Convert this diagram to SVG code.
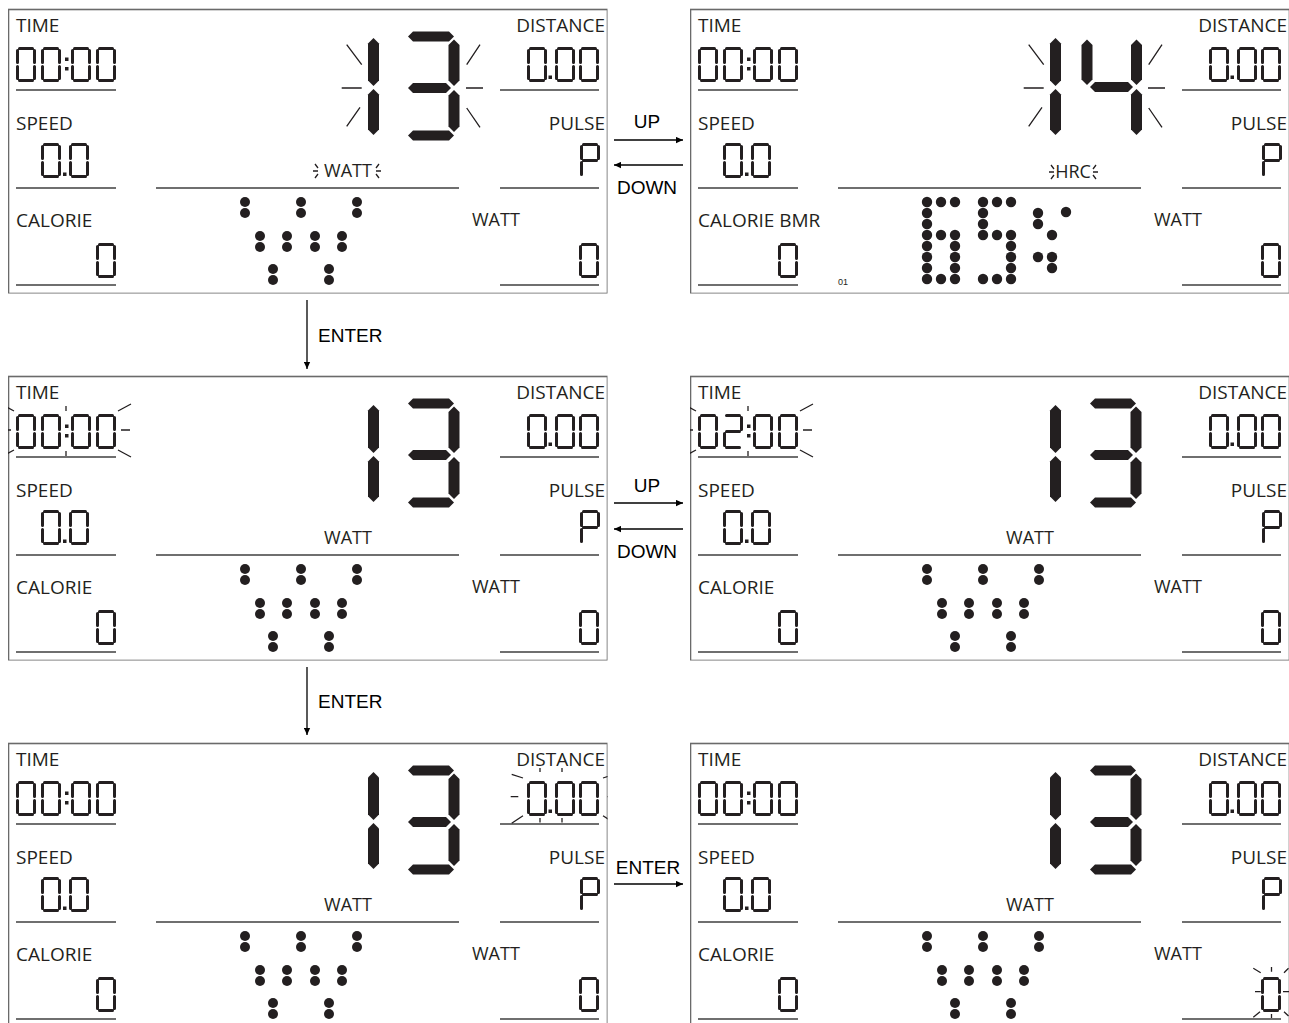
<svg xmlns="http://www.w3.org/2000/svg" xmlns:xlink="http://www.w3.org/1999/xlink" width="1289" height="1023" viewBox="0 0 1289 1023">
<style>
.lbl{font-family:"Open Sans","Liberation Sans",sans-serif;font-size:19px;fill:#231f20}
.lbl18{font-family:"Open Sans","Liberation Sans",sans-serif;font-size:18px;fill:#231f20}
.arr{font-family:"Liberation Sans",Arial,sans-serif;font-size:19px;fill:#000}
.tiny{font-family:"Liberation Sans",Arial,sans-serif;font-size:9px;fill:#231f20}
.seg{stroke:#231f20;stroke-width:3;stroke-linecap:round;fill:none}
.big{fill:#231f20}
.ul{stroke:#404040;stroke-width:1.6}
.fl{stroke:#231f20;stroke-width:1.3;fill:none}
.dot{fill:#231f20}
.border{fill:#fff;stroke:#6a6a6a;stroke-width:1.6}
.conn{stroke:#000;stroke-width:1.3;fill:none}
</style>
<defs>
<marker id="ah" viewBox="0 0 10 10" refX="10" refY="5" markerWidth="9" markerHeight="7" markerUnits="userSpaceOnUse" orient="auto"><path d="M0,0.5 L10,5 L0,9.5 z" fill="#000"/></marker>
<clipPath id="pclip" clipPathUnits="userSpaceOnUse"><rect x="0" y="0" width="599.5" height="285.5"/></clipPath>
<g id="s0" class="seg"><path d="M3.5 1.5H16.5M18.5 3.5V15.5M18.5 19.5V31.5M3.5 33.5H16.5M1.5 19.5V31.5M1.5 3.5V15.5"/></g>
<g id="s2" class="seg"><path d="M3.5 1.5H16.5M18.5 3.5V15.5M3.5 17.5H16.5M1.5 19.5V31.5M3.5 33.5H16.5"/></g>
<g id="sP" class="seg"><path d="M3.5 1.5H16.5M18.5 3.5V15.5M3.5 17.5H16.5M1.5 19.5V31.5M1.5 3.5V15.5"/></g>
<g id="base">
 <rect class="border" x="0.5" y="1.5" width="599" height="284"/>
 <text class="lbl" x="8" y="24">TIME</text>
 <text class="lbl" x="8" y="122">SPEED</text>
 <text class="lbl" x="597" y="24" text-anchor="end">DISTANCE</text>
 <text class="lbl" x="597" y="122" text-anchor="end">PULSE</text>
 <text class="lbl18" x="464" y="218">WATT</text>
 <path class="ul" d="M8 82H108M8 180H108M8 277H108M492 82H591M492 180H591M492 277H591M148 180H451"/>
 <use href="#s0" x="33" y="135"/><rect class="dot" x="55" y="164.5" width="3.5" height="3.5"/><use href="#s0" x="61" y="135"/>
 <use href="#s0" x="519" y="39"/><rect class="dot" x="540.5" y="67.5" width="3.5" height="3.5"/><use href="#s0" x="547" y="39"/><use href="#s0" x="571" y="39"/>
 <use href="#sP" x="572" y="135"/>
 <use href="#s0" x="88" y="235"/>
 <use href="#s0" x="571" y="235"/>
</g>
<g id="colon"><rect class="dot" x="57" y="49.5" width="3.5" height="3.5"/><rect class="dot" x="57" y="59" width="3.5" height="3.5"/></g>
<g id="t0000"><use href="#s0" x="8" y="39"/><use href="#s0" x="33" y="39"/><use href="#colon"/><use href="#s0" x="63" y="39"/><use href="#s0" x="88" y="39"/></g>
<g id="t0200"><use href="#s0" x="8" y="39"/><use href="#s2" x="33" y="39"/><use href="#colon"/><use href="#s0" x="63" y="39"/><use href="#s0" x="88" y="39"/></g>
<g id="one" class="big">
 <polygon points="365.5,30 371,35.5 371,72.5 365.5,78 360,72.5 360,35.5"/>
 <polygon points="365.5,81 371,86.5 371,121.5 365.5,127 360,121.5 360,86.5"/>
</g>
<g id="big13" class="big">
 <use href="#one"/>
 <polygon points="400,28.5 405,23.5 441,23.5 446,28.5 441,33.5 405,33.5"/>
 <polygon points="446,31.5 451.5,37 451.5,72.5 446,78 440.5,72.5 440.5,37"/>
 <polygon points="400,80 405,75 438,75 443,80 438,85 405,85"/>
 <polygon points="446,82 451.5,87.5 451.5,118.5 446,124 440.5,118.5 440.5,87.5"/>
 <polygon points="400,127.5 405,122.5 441,122.5 446,127.5 441,132.5 405,132.5"/>
</g>
<g id="big14" class="big">
 <use href="#one"/>
 <polygon points="397,31.5 402.5,37 402.5,71.5 397,77 391.5,71.5 391.5,37"/>
 <polygon points="400,79 405,74 438,74 443,79 438,84 405,84"/>
 <polygon points="446.5,31.5 452,37 452,71.5 446.5,77 441,71.5 441,37"/>
 <polygon points="446.5,81 452,86.5 452,121.5 446.5,127 441,121.5 441,86.5"/>
</g>
<path id="flbig" class="fl" d="M338.7 36.7L353.7 56.7M333.7 80H353.7M338.7 118.3L352 99.3M458.7 56.7L472 36.7M458 80H475M458.7 100L472 119.3"/>
<path id="fltime" class="fl" d="M123 29L110 36M113 55H122M110 75L123 82M-7 29L6 36M-6 55H3M6 75L-7 82M58 31V36M58 76V81"/>
<g id="wicon" class="dot">
 <circle cx="237" cy="194" r="5"/><circle cx="237" cy="205" r="5"/><circle cx="293" cy="194" r="5"/><circle cx="293" cy="205" r="5"/><circle cx="349" cy="194" r="5"/><circle cx="349" cy="205" r="5"/>
 <circle cx="252" cy="228" r="5"/><circle cx="252" cy="239" r="5"/><circle cx="279" cy="228" r="5"/><circle cx="279" cy="239" r="5"/><circle cx="307" cy="228" r="5"/><circle cx="307" cy="239" r="5"/><circle cx="334" cy="228" r="5"/><circle cx="334" cy="239" r="5"/>
 <circle cx="265" cy="261" r="5"/><circle cx="265" cy="272" r="5"/><circle cx="321" cy="261" r="5"/><circle cx="321" cy="272" r="5"/>
</g>
<text id="wattc" class="lbl18" x="340" y="169" text-anchor="middle">WATT</text>
<text id="calorie" class="lbl" x="8" y="219">CALORIE</text>
</defs>

<g id="panel-1-watt-set" transform="translate(8,8)">
 <g clip-path="url(#pclip)">
  <use href="#base"/><use href="#t0000"/><use href="#big13"/><use href="#flbig"/>
  <use href="#wattc"/>
  <path class="fl" d="M307 156L310 160M305 163H310M307 170L310 166M371 156L368 160M368 163H373M368 166L371 170"/>
  <use href="#wicon"/><use href="#calorie"/>
 </g>
</g>

<g id="panel-2-hrc" transform="translate(690,8)">
 <g clip-path="url(#pclip)">
  <use href="#base"/><use href="#t0000"/><use href="#big14"/><use href="#flbig"/>
  <text class="lbl18" x="383" y="170" text-anchor="middle">HRC</text>
  <path class="fl" d="M361 157L364 161M359 164H364M361 171L364 167M406 157L403 161M403 164H408M403 167L406 171"/>
  <text class="lbl" x="8" y="219">CALORIE BMR</text>
  <text class="tiny" x="148" y="277">01</text>
  <g class="dot">
   <circle cx="237" cy="194" r="5.2"/><circle cx="251" cy="194" r="5.2"/><circle cx="265" cy="194" r="5.2"/>
   <circle cx="237" cy="205" r="5.2"/><circle cx="237" cy="216" r="5.2"/>
   <circle cx="237" cy="227" r="5.2"/><circle cx="251" cy="227" r="5.2"/><circle cx="265" cy="227" r="5.2"/>
   <circle cx="237" cy="238" r="5.2"/><circle cx="265" cy="238" r="5.2"/>
   <circle cx="237" cy="249" r="5.2"/><circle cx="265" cy="249" r="5.2"/>
   <circle cx="237" cy="260" r="5.2"/><circle cx="265" cy="260" r="5.2"/>
   <circle cx="237" cy="271" r="5.2"/><circle cx="251" cy="271" r="5.2"/><circle cx="265" cy="271" r="5.2"/>
   <circle cx="293" cy="194" r="5.2"/><circle cx="307" cy="194" r="5.2"/><circle cx="321" cy="194" r="5.2"/>
   <circle cx="293" cy="205" r="5.2"/><circle cx="293" cy="216" r="5.2"/>
   <circle cx="293" cy="227" r="5.2"/><circle cx="307" cy="227" r="5.2"/><circle cx="321" cy="227" r="5.2"/>
   <circle cx="321" cy="238" r="5.2"/><circle cx="321" cy="249" r="5.2"/><circle cx="321" cy="260" r="5.2"/>
   <circle cx="293" cy="271" r="5.2"/><circle cx="307" cy="271" r="5.2"/><circle cx="321" cy="271" r="5.2"/>
   <circle cx="348" cy="205" r="5.2"/><circle cx="376" cy="204" r="5.2"/><circle cx="348" cy="216" r="5.2"/><circle cx="362" cy="227" r="5.2"/>
   <circle cx="348" cy="249" r="5.2"/><circle cx="362" cy="249" r="5.2"/><circle cx="362" cy="260" r="5.2"/>
  </g>
 </g>
</g>

<g id="panel-3-time-set" transform="translate(8,375)">
 <g clip-path="url(#pclip)">
  <use href="#base"/><use href="#t0000"/><use href="#fltime"/><use href="#big13"/>
  <use href="#wattc"/><use href="#wicon"/><use href="#calorie"/>
 </g>
</g>

<g id="panel-4-time-0200" transform="translate(690,375)">
 <g clip-path="url(#pclip)">
  <use href="#base"/><use href="#t0200"/><use href="#fltime"/><use href="#big13"/>
  <use href="#wattc"/><use href="#wicon"/><use href="#calorie"/>
 </g>
</g>

<g id="panel-5-distance-set" transform="translate(8,742)">
 <g clip-path="url(#pclip)">
  <use href="#base"/><use href="#t0000"/><use href="#big13"/>
  <path class="fl" d="M503.7 32.3L515 36M502.7 54.7H510.3M503.7 81.3L515 73.7M606.3 32.3L595 36M599.3 54.7H607.3M606.3 81.3L595 73.7M532 26V30M554 26V30M532 76V80.5M554 76V80.5"/>
  <use href="#wattc"/><use href="#wicon"/><use href="#calorie"/>
 </g>
</g>

<g id="panel-6-watt-target" transform="translate(690,742)">
 <g clip-path="url(#pclip)">
  <use href="#base"/><use href="#t0000"/><use href="#big13"/>
  <use href="#wattc"/><use href="#wicon"/><use href="#calorie"/>
  <path class="fl" d="M581.5 225V229.7M563.3 226.3L570.7 230.7M565 249.7H570.7M563.3 275.3L570 269.7M581.5 272V276M594 230.7L598.5 226.3M593 249.7H599M594 269.7L598.5 274"/>
 </g>
</g>

<g id="connectors">
 <path class="conn" d="M614 140H683" marker-end="url(#ah)"/>
 <path class="conn" d="M683 165H614" marker-end="url(#ah)"/>
 <path class="conn" d="M614 503H683" marker-end="url(#ah)"/>
 <path class="conn" d="M683 529H614" marker-end="url(#ah)"/>
 <path class="conn" d="M307 300V369" marker-end="url(#ah)"/>
 <path class="conn" d="M307 667V735" marker-end="url(#ah)"/>
 <path class="conn" d="M614 884H683" marker-end="url(#ah)"/>
 <text class="arr" x="647" y="128" text-anchor="middle">UP</text>
 <text class="arr" x="647" y="194" text-anchor="middle">DOWN</text>
 <text class="arr" x="647" y="492" text-anchor="middle">UP</text>
 <text class="arr" x="647" y="558" text-anchor="middle">DOWN</text>
 <text class="arr" x="318" y="342">ENTER</text>
 <text class="arr" x="318" y="708">ENTER</text>
 <text class="arr" x="648" y="874" text-anchor="middle">ENTER</text>
</g>
</svg>
